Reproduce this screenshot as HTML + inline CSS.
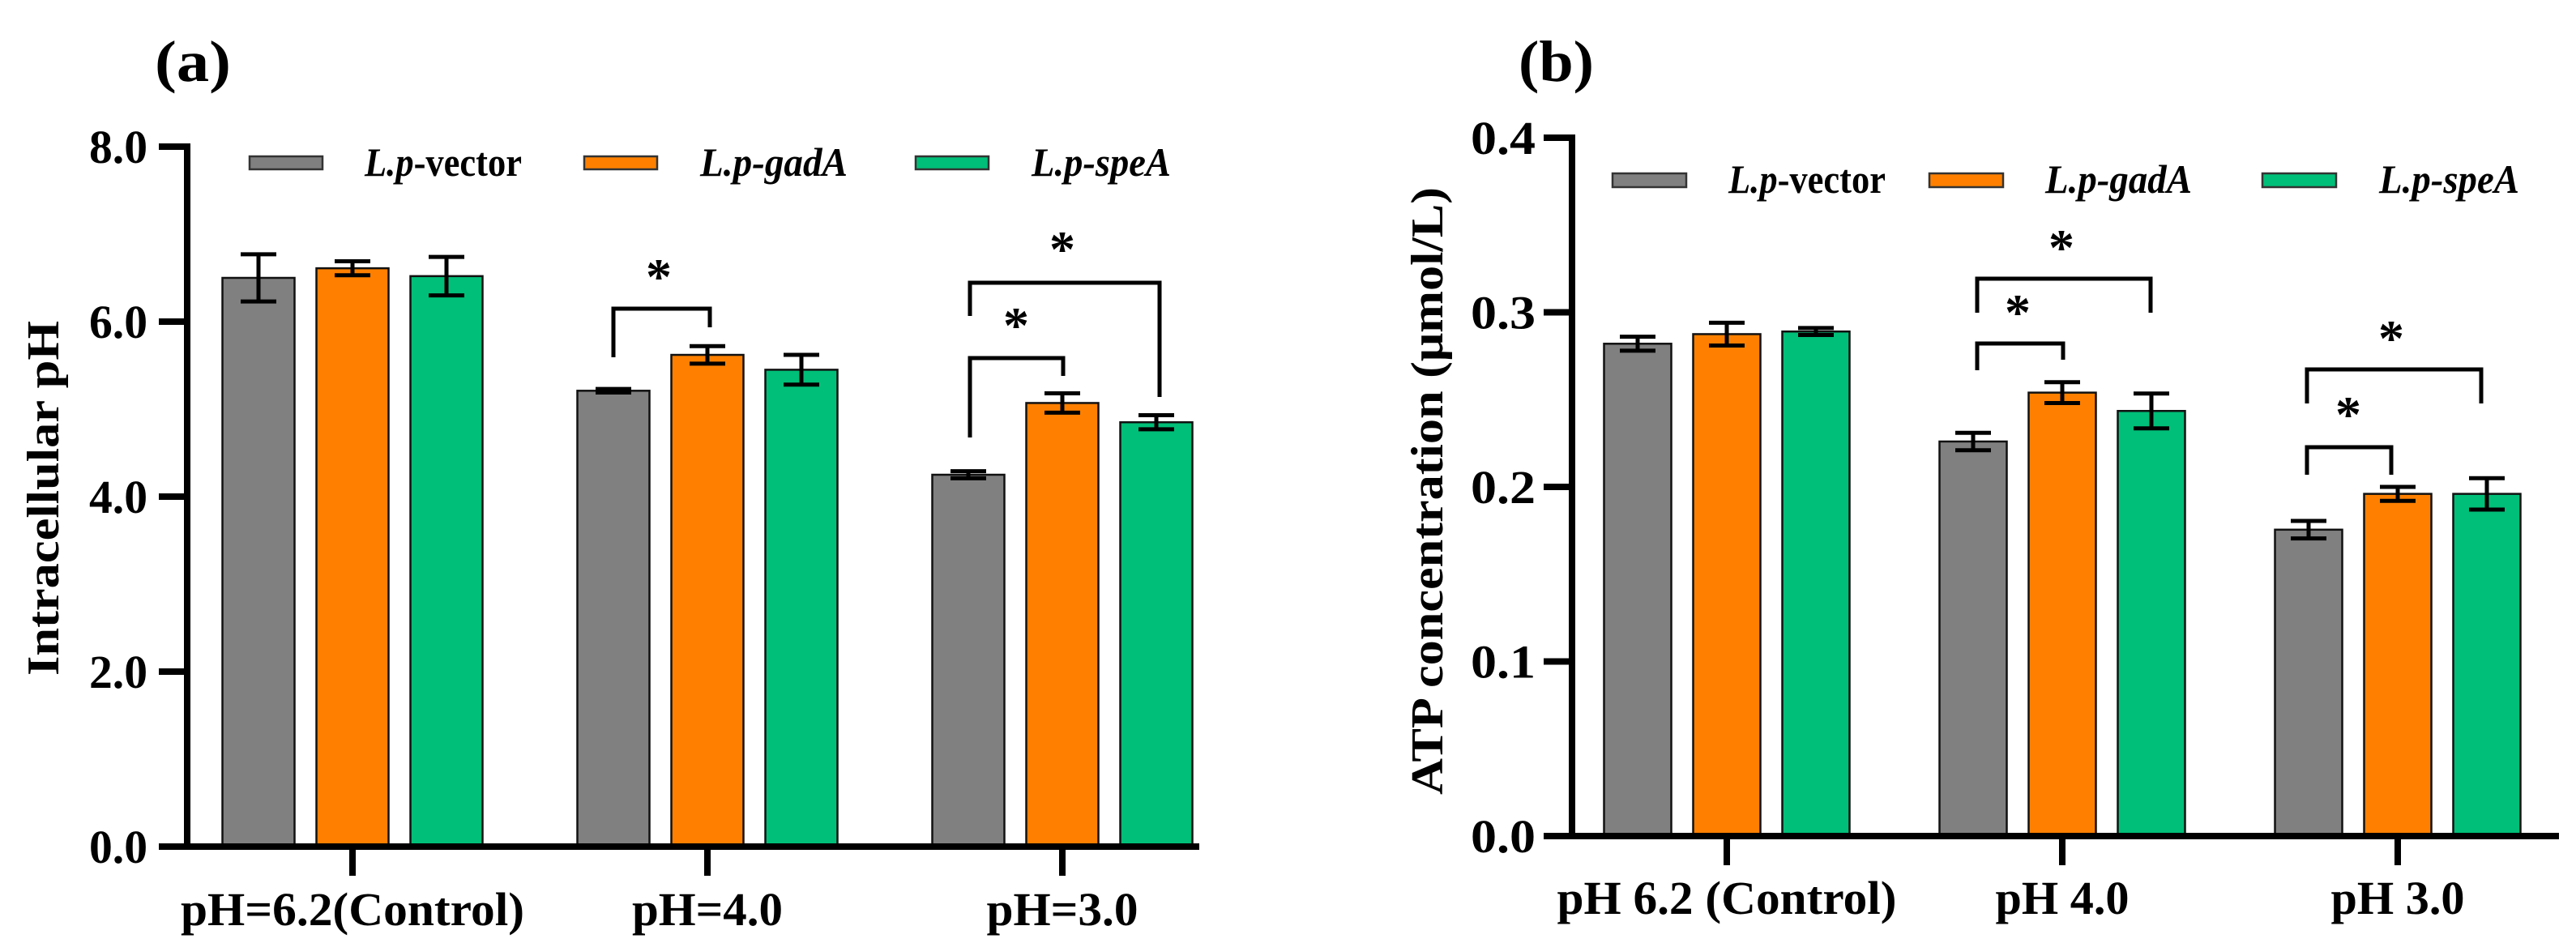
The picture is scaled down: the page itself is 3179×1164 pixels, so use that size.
<!DOCTYPE html>
<html><head><meta charset="utf-8">
<style>
html,body{margin:0;padding:0;background:#fff;}
svg{display:block;font-family:"Liberation Serif",serif;font-weight:bold;}
</style></head>
<body>
<svg id="fig" width="3179" height="1164" viewBox="0 0 3179 1164" xmlns="http://www.w3.org/2000/svg">
<g id="pa"></g>
<g id="pb"></g>
</svg>
<script>
// ---- Panel (a) data ----
const aCategories = ["pH=6.2(Control)", "pH=4.0", "pH=3.0"];
const aVector = [6.50, 5.21, 4.25];
const aVectorErr = [0.27, 0.02, 0.04];
const aGadA = [6.61, 5.62, 5.07];
const aGadAErr = [0.08, 0.10, 0.11];
const aSpeA = [6.52, 5.45, 4.85];
const aSpeAErr = [0.22, 0.17, 0.08];
const aTicks = [0, 2, 4, 6, 8];
const aTickLabels = ["0.0", "2.0", "4.0", "6.0", "8.0"];
// ---- Panel (b) data ----
const bCategories = ["pH 6.2 (Control)", "pH 4.0", "pH 3.0"];
const bVector = [0.282, 0.226, 0.1755];
const bVectorErr = [0.004, 0.005, 0.005];
const bGadA = [0.2875, 0.254, 0.196];
const bGadAErr = [0.0065, 0.006, 0.004];
const bSpeA = [0.289, 0.2435, 0.196];
const bSpeAErr = [0.002, 0.010, 0.009];
const bTicks = [0, 0.1, 0.2, 0.3, 0.4];
const bTickLabels = ["0.0", "0.1", "0.2", "0.3", "0.4"];

const NS = "http://www.w3.org/2000/svg";
const COLORS = ["#808080", "#FF8000", "#00BF78"];
function mk(parent, tag, attrs, text) {
  const e = document.createElementNS(NS, tag);
  for (const k in attrs) e.setAttribute(k, attrs[k]);
  if (text !== undefined) e.textContent = text;
  parent.appendChild(e);
  return e;
}

function drawPanel(g, cfg) {
  const y = v => cfg.y0 - (v - cfg.vmin) / (cfg.vmax - cfg.vmin) * (cfg.y0 - cfg.yTop);
  const gx = i => cfg.g0 + i * cfg.gStep;
  const bx = (i, s) => gx(i) + (s - 1) * cfg.bStep;
  // panel letter
  const lt = mk(g, "text", {x: cfg.letterX, y: 100, "font-size": 72, textLength: cfg.letterW, lengthAdjust: "spacingAndGlyphs"}, cfg.letter);
  
  
  // y title
  const yt = mk(g, "text", {x: 0, y: 0, "font-size": 56, "text-anchor": "middle", textLength: cfg.yTitleLen, lengthAdjust: "spacingAndGlyphs",
    transform: `translate(${cfg.yTitleX},${cfg.yTitleY}) rotate(-90)`}, cfg.yTitle);
  
  
  // bars
  const series = [[cfg.s1, cfg.e1], [cfg.s2, cfg.e2], [cfg.s3, cfg.e3]];
  series.forEach((se, s) => {
    se[0].forEach((v, i) => {
      const cx = bx(i, s), w = cfg.barW;
      const r = mk(g, "rect", {x: cx - w / 2, y: y(v), width: w, height: cfg.y0 - y(v), fill: COLORS[s], stroke: "#111", "stroke-width": 2.5});
      
      
      const e = se[1][i];
      const eg = mk(g, "path", {d: `M${cx},${y(v + e)}V${y(v - e)}M${cx - 22},${y(v + e)}H${cx + 22}M${cx - 22},${y(v - e)}H${cx + 22}`, stroke: "#000", "stroke-width": 5, fill: "none"});
      
      
    });
  });
  // axes
  const ax = mk(g, "path", {d: `M${cfg.axX},${y(cfg.vmax) - 4}V${cfg.y0 + 4}M${cfg.axX - 4},${cfg.y0}H${cfg.xEnd}`, stroke: "#000", "stroke-width": 8, fill: "none"});
  
  
  cfg.ticks.forEach((t, k) => {
    const tk = mk(g, "line", {x1: cfg.axX - 35, x2: cfg.axX, y1: y(t), y2: y(t), stroke: "#000", "stroke-width": 8});
    
    
    const tl = mk(g, "text", {x: cfg.tickLabR, y: y(t) + 20, "font-size": 58, "text-anchor": "end", textLength: cfg.tickLabW, lengthAdjust: "spacingAndGlyphs"}, cfg.tickLabels[k]);
    
    
  });
  cfg.cats.forEach((c, i) => {
    const tk = mk(g, "line", {x1: gx(i), x2: gx(i), y1: cfg.y0, y2: cfg.y0 + 36, stroke: "#000", "stroke-width": 8});
    
    
    const tl = mk(g, "text", {x: gx(i), y: cfg.xLabY, "font-size": 58, "text-anchor": "middle", textLength: cfg.catW[i], lengthAdjust: "spacingAndGlyphs"}, c);
    
    
  });
  // legend
  const legTxt = [["L.p", "-vector", ""], ["L.p-gadA", "", ""], ["L.p-speA", "", ""]];
  cfg.leg.forEach((L, s) => {
    const sw = mk(g, "rect", {x: L[0], y: cfg.legY, width: cfg.swW, height: cfg.legH, fill: COLORS[s], stroke: "#333", "stroke-width": 2.5});
    
    
    const t = mk(g, "text", {x: L[1], y: cfg.legBase, "font-size": 50, textLength: L[2], lengthAdjust: "spacingAndGlyphs"});
    
    
    mk(t, "tspan", {"font-style": "italic"}, legTxt[s][0]);
    if (legTxt[s][1]) mk(t, "tspan", {}, legTxt[s][1]);
  });
  // significance brackets
  cfg.brackets.forEach(b => {
    const p = mk(g, "path", {d: `M${b[0]},${b[3]}V${b[2]}H${b[1]}V${b[4]}`, stroke: "#000", "stroke-width": 5, fill: "none"});
    
    
    const st = mk(g, "text", {x: b[5], y: b[6] + 30, "font-size": 64, "text-anchor": "middle"}, "*");
    
    
  });
}

drawPanel(document.getElementById("pa"), {
  letter: "(a)", letterX: 191, letterW: 94,
  yTitle: "Intracellular pH", yTitleX: 72, yTitleY: 615, yTitleLen: 438,
  vmin: 0, vmax: 8, y0: 1045, yTop: 181,
  g0: 435, gStep: 438, bStep: 116, barW: 89,
  axX: 231, xEnd: 1480,
  ticks: aTicks, tickLabels: aTickLabels, tickLabR: 182, tickLabW: 72,
  cats: aCategories, catW: [424, 186, 187], xLabY: 1142,
  s1: aVector, e1: aVectorErr, s2: aGadA, e2: aGadAErr, s3: aSpeA, e3: aSpeAErr,
  names: ["vector", "gadA", "speA"],
  leg: [[308, 450, 194], [721, 864, 182], [1130, 1273, 172]],
  legY: 193, legH: 16, swW: 90, legBase: 217,
  brackets: [
    [757, 876, 381, 441, 404, 813, 333],
    [1197, 1312, 442, 540, 464, 1254, 393],
    [1197, 1431, 349, 390, 490, 1311, 299]
  ]
});

drawPanel(document.getElementById("pb"), {
  letter: "(b)", letterX: 1874, letterW: 93,
  yTitle: "ATP concentration (μmol/L)", yTitleX: 1780, yTitleY: 606, yTitleLen: 750,
  vmin: 0, vmax: 0.4, y0: 1032, yTop: 170,
  g0: 2131, gStep: 414, bStep: 110, barW: 83,
  axX: 1940, xEnd: 3158,
  ticks: bTicks, tickLabels: bTickLabels, tickLabR: 1895, tickLabW: 80,
  cats: bCategories, catW: [419, 165, 165], xLabY: 1128,
  s1: bVector, e1: bVectorErr, s2: bGadA, e2: bGadAErr, s3: bSpeA, e3: bSpeAErr,
  names: ["vector", "gadA", "speA"],
  leg: [[1990, 2133, 194], [2381, 2524, 181], [2792, 2936, 173]],
  legY: 214, legH: 17, swW: 91, legBase: 238,
  brackets: [
    [2440, 2546, 424, 457, 444, 2490, 377],
    [2440, 2654, 344, 386, 386, 2544, 297],
    [2847, 2951, 552, 586, 586, 2898, 503],
    [2847, 3062, 456, 498, 498, 2951, 409]
  ]
});
</script>
</body></html>
